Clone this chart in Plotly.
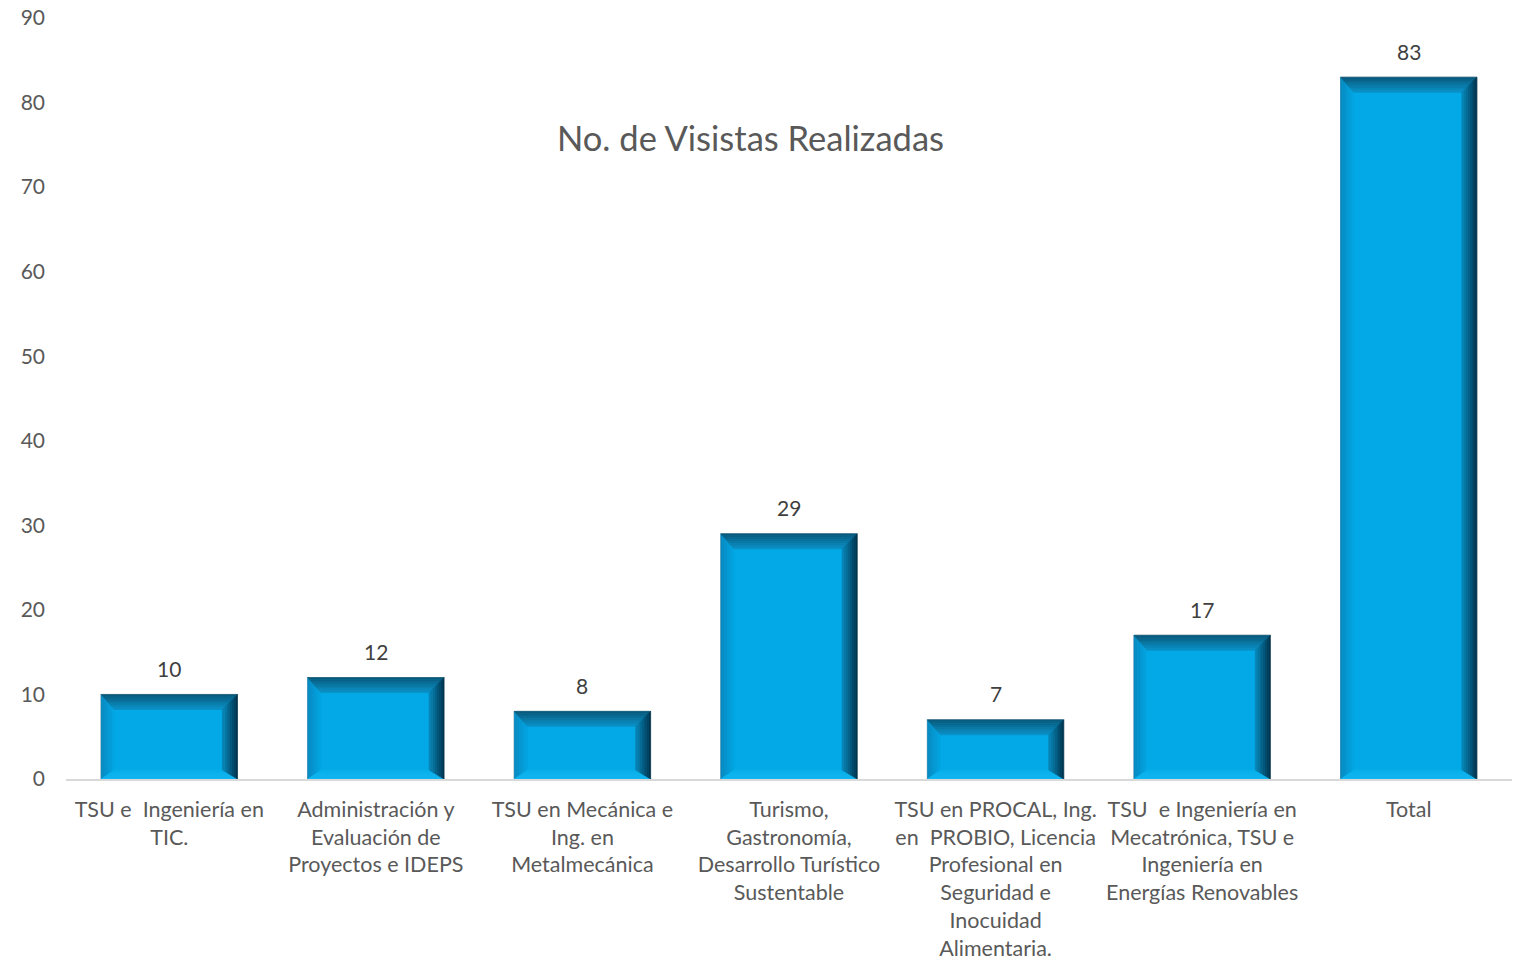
import plotly.graph_objects as go

categories = [
    "TSU e  Ingeniería en<br>TIC.",
    "Administración y<br>Evaluación de<br>Proyectos e IDEPS",
    "TSU en Mecánica e<br>Ing. en<br>Metalmecánica",
    "Turismo,<br>Gastronomía,<br>Desarrollo Turístico<br>Sustentable",
    "TSU en PROCAL, Ing.<br>en  PROBIO, Licencia<br>Profesional en<br>Seguridad e<br>Inocuidad<br>Alimentaria.",
    "TSU  e Ingeniería en<br>Mecatrónica, TSU e<br>Ingeniería en<br>Energías Renovables",
    "Total",
]
visits = [10, 12, 8, 29, 7, 17, 83]
y_ticks = list(range(0, 91, 10))

W, H = 1519, 963
M_L, M_R, M_T, M_B = 66, 7, 18, 184
Y_MAX = 90
BAR_W = 0.66

plot_w = W - M_L - M_R
plot_h = H - M_T - M_B
px_x = plot_w / len(categories)   # pixels per category slot
px_y = plot_h / Y_MAX             # pixels per y unit

FILL = "#02A9E6"


def lerp(c1, c2, t):
    a = [int(c1[i:i + 2], 16) for i in (1, 3, 5)]
    b = [int(c2[i:i + 2], 16) for i in (1, 3, 5)]
    return "#" + "".join(f"{round(a[k] + (b[k] - a[k]) * t):02x}" for k in range(3))


# bevel: (pixel width, outer colour, inner colour)
bevel = {
    "top": (15, "#0a5677", "#0b92c8"),
    "right": (15, "#002f48", "#0a88b9"),
    "left": (13, "#0a88bf", "#04a6e2"),
    "bottom": (9, "#14b8f2", "#08aeea"),
}
STEPS = 8

fig = go.Figure()
fig.add_trace(go.Bar(
    x=list(range(len(categories))), y=visits, width=BAR_W,
    marker=dict(color=FILL, line=dict(color="#a9a9a9", width=1)),
    hoverinfo="skip",
))

shapes = []
for i, v in enumerate(visits):
    x0, x1 = i - BAR_W / 2, i + BAR_W / 2
    y0, y1 = 0.0, float(v)
    dl = bevel["left"][0] / px_x
    dr = bevel["right"][0] / px_x
    dt = bevel["top"][0] / px_y
    db = bevel["bottom"][0] / px_y
    for s in range(STEPS):
        a, b = s / STEPS, (s + 1) / STEPS
        t = (s + 0.5) / STEPS
        # outer and inner rectangles for this band
        ox0, ox1 = x0 + dl * a, x1 - dr * a
        oy0, oy1 = y0 + db * a, y1 - dt * a
        ix0, ix1 = x0 + dl * b, x1 - dr * b
        iy0, iy1 = y0 + db * b, y1 - dt * b
        polys = {
            "top": [(ox0, oy1), (ox1, oy1), (ix1, iy1), (ix0, iy1)],
            "right": [(ox1, oy1), (ox1, oy0), (ix1, iy0), (ix1, iy1)],
            "left": [(ox0, oy1), (ix0, iy1), (ix0, iy0), (ox0, oy0)],
            "bottom": [(ox0, oy0), (ix0, iy0), (ix1, iy0), (ox1, oy0)],
        }
        for side in ("left", "bottom", "top", "right"):
            _, co, ci = bevel[side]
            col = lerp(co, ci, t)
            pts = polys[side]
            path = "M " + " L ".join(f"{px},{py}" for px, py in pts) + " Z"
            shapes.append(dict(type="path", path=path, xref="x", yref="y",
                               fillcolor=col, line=dict(width=0.6, color=col),
                               layer="above"))

# value labels above each bar
annotations = [dict(
    x=i, y=v, xref="x", yref="y", text=str(v), showarrow=False,
    yanchor="middle", yshift=26,
    font=dict(family="Lato", size=21, color="#404040"),
) for i, v in enumerate(visits)]

annotations.append(dict(
    text="No. de Visistas Realizadas", x=(750 - M_L) / plot_w, y=(H - M_B - 138) / plot_h,
    xref="paper", yref="paper", showarrow=False,
    font=dict(family="Lato", size=34.5, color="#595959"),
    xanchor="center", yanchor="middle",
))

fig.update_layout(
    width=W, height=H,
    margin=dict(l=M_L, r=M_R, t=M_T, b=M_B),
    paper_bgcolor="white", plot_bgcolor="white",
    showlegend=False,
    font=dict(family="Lato", size=21, color="#595959"),
    shapes=shapes,
    annotations=annotations,
    xaxis=dict(
        tickmode="array", tickvals=list(range(len(categories))), ticktext=categories,
        range=[-0.5, len(categories) - 0.5], showgrid=False, ticks="",
        showline=True, linecolor="#d9d9d9", linewidth=1.5, zeroline=False,
        ticklabelstandoff=10, automargin=False,
        tickfont=dict(family="Lato", size=21.5, color="#595959"),
    ),
    yaxis=dict(
        range=[0, Y_MAX], tickvals=y_ticks, showgrid=False, zeroline=False,
        showline=False, ticks="", ticklabelstandoff=20, automargin=False,
        tickfont=dict(family="Lato", size=21, color="#595959"),
    ),
    bargap=0.34,
)

fig.write_html("out.html")
